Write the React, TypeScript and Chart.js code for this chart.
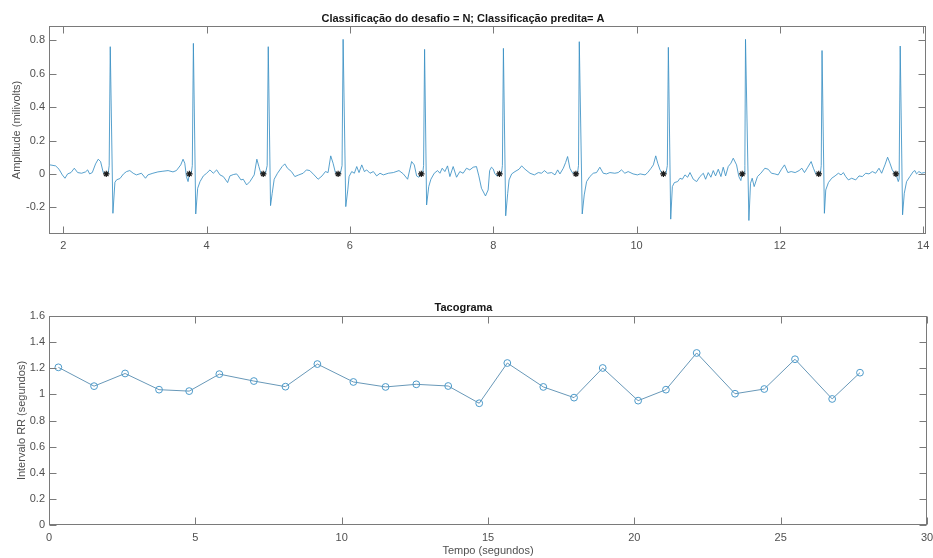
import React, { useEffect, useRef } from 'react';
import { Chart, registerables } from 'chart.js';

Chart.register(...registerables);

// ---------- DATA ----------
const ecgTitle = 'Classificação do desafio = N; Classificação predita= A';
const ecgYLabel = 'Amplitude (milivolts)';
const tacoTitle = 'Tacograma';
const tacoYLabel = 'Intervalo RR (segundos)';
const tacoXLabel = 'Tempo (segundos)';

const ecgXTicks = [2, 4, 6, 8, 10, 12, 14];
const ecgYTicks = [-0.2, 0, 0.2, 0.4, 0.6, 0.8];
const tacoXTicks = [0, 5, 10, 15, 20, 25, 30];
const tacoYTicks = [0, 0.2, 0.4, 0.6, 0.8, 1, 1.2, 1.4, 1.6];

// ECG trace: [tempo (s), amplitude (mV)]
const ecgPoints: [number, number][] = [
  [1.8, 0.054], [1.814, 0.054], [1.893, 0.048], [1.94, 0.028], [1.986, -0.006], [2.023, -0.026], [2.06, 0],
  [2.107, 0.008], [2.153, 0.034], [2.2, 0.008], [2.255, 0.004], [2.31, 0.012], [2.339, 0.024], [2.367, 0],
  [2.404, 0.008], [2.45, 0.06], [2.487, 0.088], [2.52, 0.074], [2.557, 0.008], [2.599, 0],
  [2.625, 0], [2.64, 0.05], [2.655, 0.762], [2.692, -0.236],
  [2.72, -0.05], [2.745, -0.035], [2.79, -0.028], [2.84, 0], [2.882, 0.014], [2.928, 0.02], [2.975, 0.004],
  [3.02, -0.006], [3.09, 0.004], [3.147, -0.026], [3.18, -0.006], [3.25, 0.004], [3.32, 0.012], [3.39, 0.016],
  [3.462, 0.02], [3.53, 0.012], [3.578, 0.02], [3.639, 0.054], [3.671, 0.088], [3.695, 0.064], [3.718, -0.016],
  [3.741, -0.046], [3.759, 0],
  [3.785, 0], [3.8, 0.05], [3.815, 0.782], [3.848, -0.24],
  [3.875, -0.086], [3.908, -0.046], [3.954, -0.012], [4.0, 0.004], [4.047, 0.024], [4.093, 0.004], [4.14, 0.024],
  [4.186, -0.006], [4.233, -0.016], [4.293, -0.052], [4.325, -0.012], [4.372, -0.004], [4.418, 0], [4.441, -0.012],
  [4.479, -0.036], [4.511, -0.032], [4.558, -0.066], [4.604, -0.046], [4.664, -0.006], [4.701, 0.088],
  [4.729, 0.044], [4.757, 0.004], [4.79, 0],
  [4.82, 0], [4.845, 0.05], [4.86, 0.762], [4.892, -0.19],
  [4.915, -0.116], [4.943, -0.032], [4.989, 0.004], [5.054, 0.044], [5.091, 0.06], [5.128, 0.034], [5.184, 0.014],
  [5.231, -0.016], [5.286, -0.006], [5.347, 0.004], [5.393, 0.024], [5.44, 0.02], [5.5, -0.006], [5.556, -0.032],
  [5.611, -0.012], [5.658, 0.014], [5.695, 0.008], [5.732, 0.108], [5.765, 0.064], [5.797, 0.008], [5.835, 0],
  [5.865, 0], [5.89, 0.05], [5.905, 0.806], [5.942, -0.196],
  [5.97, -0.096], [5.988, -0.016], [6.025, 0.014], [6.062, 0.004], [6.095, 0.044], [6.127, 0.008], [6.165, 0.054],
  [6.202, 0.014], [6.234, 0.024], [6.28, 0.004], [6.327, 0.014], [6.373, -0.012], [6.42, 0.004], [6.466, -0.006],
  [6.536, 0.004], [6.606, 0.008], [6.685, 0.02], [6.745, 0], [6.805, -0.032], [6.861, 0.074], [6.898, 0.054],
  [6.931, -0.012], [6.963, -0.02], [6.996, 0],
  [7.015, 0], [7.028, 0.05], [7.042, 0.746], [7.07, -0.186],
  [7.1, -0.076], [7.13, -0.032], [7.177, 0.004], [7.223, 0.02], [7.256, 0.004], [7.288, 0.034], [7.325, 0.014],
  [7.362, 0.048], [7.395, -0.016], [7.441, 0.044], [7.488, -0.02], [7.534, 0.014], [7.58, 0.004], [7.627, 0.034],
  [7.673, 0.024], [7.72, 0.04], [7.766, 0.044], [7.799, -0.012], [7.836, -0.086], [7.892, -0.132], [7.929, -0.096],
  [7.95, 0.02], [7.975, 0.04], [8.0, 0.03], [8.02, 0.004], [8.05, -0.012], [8.087, 0],
  [8.115, 0], [8.128, 0.05], [8.142, 0.752], [8.174, -0.251],
  [8.202, -0.116], [8.221, -0.036], [8.258, 0], [8.304, 0.014], [8.36, 0.028], [8.397, 0.048], [8.444, 0.028],
  [8.513, 0.004], [8.574, -0.006], [8.629, 0.008], [8.676, 0.004], [8.713, 0.02], [8.759, 0.004], [8.815, 0.008],
  [8.862, -0.006], [8.899, 0.024], [8.931, 0], [8.978, 0.034], [9.01, 0.068], [9.038, 0.104], [9.07, 0.034],
  [9.103, 0.008], [9.154, 0],
  [9.175, 0], [9.19, 0.05], [9.201, 0.792], [9.242, -0.24],
  [9.27, -0.126], [9.303, -0.046], [9.349, -0.016], [9.396, 0.004], [9.442, 0.008], [9.488, 0.04], [9.535, 0.004],
  [9.581, 0], [9.628, 0.008], [9.697, 0.004], [9.744, 0.008], [9.79, 0.024], [9.837, 0.004], [9.883, 0.014],
  [9.952, 0], [10.013, -0.006], [10.05, 0], [10.119, -0.006], [10.156, 0.008], [10.203, 0.034], [10.235, 0.054],
  [10.268, 0.108], [10.296, 0.064], [10.328, 0.024], [10.351, 0.008], [10.375, 0],
  [10.41, 0], [10.43, 0.05], [10.444, 0.758], [10.477, -0.271],
  [10.5, -0.076], [10.528, -0.052], [10.574, -0.046], [10.607, -0.026], [10.639, -0.032], [10.676, -0.006],
  [10.713, -0.02], [10.746, 0.008], [10.792, -0.032], [10.839, -0.046], [10.885, -0.016], [10.932, 0.004],
  [10.964, -0.032], [11.001, 0.008], [11.038, -0.02], [11.071, 0.02], [11.103, -0.012], [11.141, 0.028],
  [11.178, -0.016], [11.21, 0.04], [11.243, -0.012], [11.28, 0.044], [11.317, 0.064], [11.35, 0.094],
  [11.396, 0.054], [11.428, -0.016], [11.456, -0.04], [11.475, 0],
  [11.5, 0], [11.512, 0.05], [11.521, 0.806], [11.568, -0.279],
  [11.591, -0.056], [11.614, -0.026], [11.642, -0.076], [11.688, -0.016], [11.735, 0.004], [11.791, 0.034],
  [11.837, 0.028], [11.883, 0.004], [11.93, 0], [11.976, -0.006], [12.023, 0.028], [12.065, 0.054], [12.112, 0.008],
  [12.158, 0.014], [12.214, 0.008], [12.269, 0.02], [12.307, 0.034], [12.344, 0.008], [12.39, 0.04], [12.437, 0.074],
  [12.469, 0.034], [12.502, 0], [12.543, 0],
  [12.565, 0], [12.578, 0.05], [12.589, 0.739], [12.622, -0.236],
  [12.641, -0.096], [12.678, -0.052], [12.724, -0.026], [12.771, -0.012], [12.817, 0.004], [12.854, -0.006],
  [12.887, 0.008], [12.919, -0.016], [12.957, -0.036], [13.003, -0.026], [13.059, -0.036], [13.105, -0.012],
  [13.152, -0.016], [13.198, 0.004], [13.244, 0], [13.291, 0.014], [13.337, 0.004], [13.384, 0.034], [13.421, 0.004],
  [13.467, 0.054], [13.504, 0.1], [13.537, 0.064], [13.569, 0.024], [13.607, 0], [13.62, 0], [13.653, -0.046],
  [13.665, -0.03], [13.68, 0.766], [13.713, -0.245],
  [13.737, -0.116], [13.769, -0.046], [13.815, -0.016], [13.862, 0.014], [13.885, 0.02], [13.908, 0], [13.941, 0.014],
  [13.978, 0.004], [14.015, 0.008], [14.04, 0.006],
];

// detected beat markers (*)
const beatMarkTime = [2.599, 3.759, 4.79, 5.835, 6.996, 8.087, 9.154, 10.375, 11.475, 12.543, 13.62];
const beatMarkAmp = [0, 0, 0, 0, 0, 0, 0, 0, 0, 0, 0];

// tachogram
const tacoTime = [0.32, 1.54, 2.6, 3.76, 4.79, 5.82, 7.0, 8.08, 9.17, 10.4, 11.5, 12.55, 13.64, 14.7, 15.66, 16.89,
  17.94, 18.92, 20.13, 21.08, 22.13, 23.44, 24.44, 25.49, 26.76, 27.71];
const tacoRR = [1.207, 1.063, 1.16, 1.036, 1.025, 1.155, 1.102, 1.059, 1.232, 1.095, 1.057, 1.077, 1.064, 0.932,
  1.24, 1.057, 0.975, 1.202, 0.952, 1.036, 1.317, 1.005, 1.041, 1.269, 0.965, 1.166];

// ---------- STYLE ----------
const FONT = "'Liberation Sans', Arial, Helvetica, sans-serif";
const AXIS_COLOR = '#7a7a7a';
const TICK_TEXT = '#505050';
const TITLE_COLOR = '#161616';
const ECG_BLUE = 'rgb(58,144,196)';
const TACO_LINE = 'rgb(104,152,184)';
const TACO_MARK = 'rgb(76,154,202)';

const fmt = (v: number) => {
  const r = Math.round(v * 10) / 10;
  return String(r === 0 ? 0 : r);
};

const boxPlugin = {
  id: 'matlabBox',
  afterDraw(chart: any) {
    const { ctx, chartArea: a, scales } = chart;
    ctx.save();
    ctx.strokeStyle = AXIS_COLOR;
    ctx.lineWidth = 1;
    const L = Math.round(a.left) + 0.5;
    const R = Math.round(a.right) - 0.5;
    const T = Math.round(a.top) + 0.5;
    const B = Math.round(a.bottom) - 0.5;
    ctx.strokeRect(L, T, R - L, B - T);
    const tl = 7;
    ctx.beginPath();
    scales.x.ticks.forEach((t: any) => {
      const px = Math.round(scales.x.getPixelForValue(t.value)) + 0.5;
      ctx.moveTo(px, B); ctx.lineTo(px, B - tl);
      ctx.moveTo(px, T); ctx.lineTo(px, T + tl);
    });
    scales.y.ticks.forEach((t: any) => {
      const py = Math.round(scales.y.getPixelForValue(t.value)) + 0.5;
      ctx.moveTo(L, py); ctx.lineTo(L + tl, py);
      ctx.moveTo(R, py); ctx.lineTo(R - tl, py);
    });
    ctx.stroke();
    ctx.restore();
  },
};

const noSidePadding = (s: any) => {
  s.paddingLeft = 0;
  s.paddingRight = 0;
};

function EcgChart() {
  const ref = useRef<HTMLCanvasElement>(null);
  useEffect(() => {
    const chart = new Chart(ref.current as HTMLCanvasElement, {
      type: 'line',
      data: {
        datasets: [
          {
            data: beatMarkTime.map((x, i) => ({ x, y: beatMarkAmp[i] })),
            showLine: false,
            pointStyle: 'star',
            pointRadius: 3.2,
            pointBorderWidth: 1.2,
            pointBorderColor: '#1a1a1a',
            pointBackgroundColor: '#1a1a1a',
            order: 0,
          },
          {
            data: ecgPoints.map(([x, y]) => ({ x, y })),
            borderColor: ECG_BLUE,
            borderWidth: 0.85,
            pointRadius: 0,
            tension: 0,
            order: 1,
          },
        ],
      },
      options: {
        animation: false,
        responsive: false,
        maintainAspectRatio: false,
        layout: { padding: { left: 0, right: 7, top: 0, bottom: 0 } },
        plugins: {
          legend: { display: false },
          tooltip: { enabled: false },
          title: {
            display: true,
            text: ecgTitle,
            color: TITLE_COLOR,
            font: { family: FONT, size: 11, weight: 'bold' },
            padding: { top: 12.2, bottom: 0.6 },
          },
        },
        scales: {
          x: {
            type: 'linear',
            min: 1.8,
            max: 14.04,
            grid: { display: false, drawTicks: false },
            border: { display: false },
            ticks: { color: TICK_TEXT, font: { family: FONT, size: 11 }, padding: 5.5, autoSkip: false, maxRotation: 0, includeBounds: false, callback: (v: any) => fmt(Number(v)) },
            afterBuildTicks: (s: any) => { s.ticks = ecgXTicks.map((v) => ({ value: v })); },
            afterFit: (s: any) => { s.height = 46; noSidePadding(s); },
          },
          y: {
            type: 'linear',
            min: -0.36,
            max: 0.886,
            grid: { display: false, drawTicks: false },
            border: { display: false },
            ticks: { color: TICK_TEXT, font: { family: FONT, size: 11 }, padding: 4, autoSkip: false, includeBounds: false, callback: (v: any) => fmt(Number(v)) },
            title: { display: true, text: ecgYLabel, color: TICK_TEXT, font: { family: FONT, size: 11 }, padding: { top: 10.6, bottom: 0 } },
            afterBuildTicks: (s: any) => { s.ticks = ecgYTicks.map((v) => ({ value: v })); },
            afterFit: (s: any) => { s.width = 49; },
          },
        },
      },
      plugins: [boxPlugin],
    } as any);
    return () => chart.destroy();
  }, []);
  return <canvas ref={ref} width={933} height={280} style={{ display: 'block', width: 933, height: 280 }} />;
}

function TacoChart() {
  const ref = useRef<HTMLCanvasElement>(null);
  useEffect(() => {
    const chart = new Chart(ref.current as HTMLCanvasElement, {
      type: 'line',
      data: {
        datasets: [
          {
            data: tacoTime.map((x, i) => ({ x, y: tacoRR[i] })),
            borderColor: TACO_LINE,
            borderWidth: 1,
            tension: 0,
            pointStyle: 'circle',
            pointRadius: 3.4,
            pointBorderWidth: 1,
            pointBorderColor: TACO_MARK,
            pointBackgroundColor: 'rgba(255,255,255,0)',
          },
        ],
      },
      options: {
        animation: false,
        responsive: false,
        maintainAspectRatio: false,
        layout: { padding: { left: 0, right: 6, top: 0, bottom: 0 } },
        plugins: {
          legend: { display: false },
          tooltip: { enabled: false },
          title: {
            display: true,
            text: tacoTitle,
            color: TITLE_COLOR,
            font: { family: FONT, size: 11, weight: 'bold' },
            padding: { top: 21.7, bottom: 1.1 },
          },
        },
        scales: {
          x: {
            type: 'linear',
            min: 0,
            max: 30,
            grid: { display: false, drawTicks: false },
            border: { display: false },
            ticks: { color: TICK_TEXT, font: { family: FONT, size: 11 }, padding: 6.8, autoSkip: false, maxRotation: 0, includeBounds: false, callback: (v: any) => fmt(Number(v)) },
            title: { display: true, text: tacoXLabel, color: TICK_TEXT, font: { family: FONT, size: 11 }, padding: { top: 0, bottom: 0 } },
            afterBuildTicks: (s: any) => { s.ticks = tacoXTicks.map((v) => ({ value: v })); },
            afterFit: (s: any) => { s.height = 33; noSidePadding(s); },
          },
          y: {
            type: 'linear',
            min: 0,
            max: 1.6,
            grid: { display: false, drawTicks: false },
            border: { display: false },
            ticks: { color: TICK_TEXT, font: { family: FONT, size: 11 }, padding: 4, autoSkip: false, includeBounds: false, callback: (v: any) => fmt(Number(v)) },
            title: { display: true, text: tacoYLabel, color: TICK_TEXT, font: { family: FONT, size: 11 }, padding: { top: 15.6, bottom: 0 } },
            afterBuildTicks: (s: any) => { s.ticks = tacoYTicks.map((v) => ({ value: v })); },
            afterFit: (s: any) => { s.width = 49; },
          },
        },
      },
      plugins: [boxPlugin],
    } as any);
    return () => chart.destroy();
  }, []);
  return <canvas ref={ref} width={933} height={278} style={{ display: 'block', width: 933, height: 278 }} />;
}

export default function App() {
  return (
    <div style={{ position: 'absolute', left: 0, top: 0, width: 933, height: 558, background: '#ffffff' }}>
      <EcgChart />
      <TacoChart />
    </div>
  );
}
